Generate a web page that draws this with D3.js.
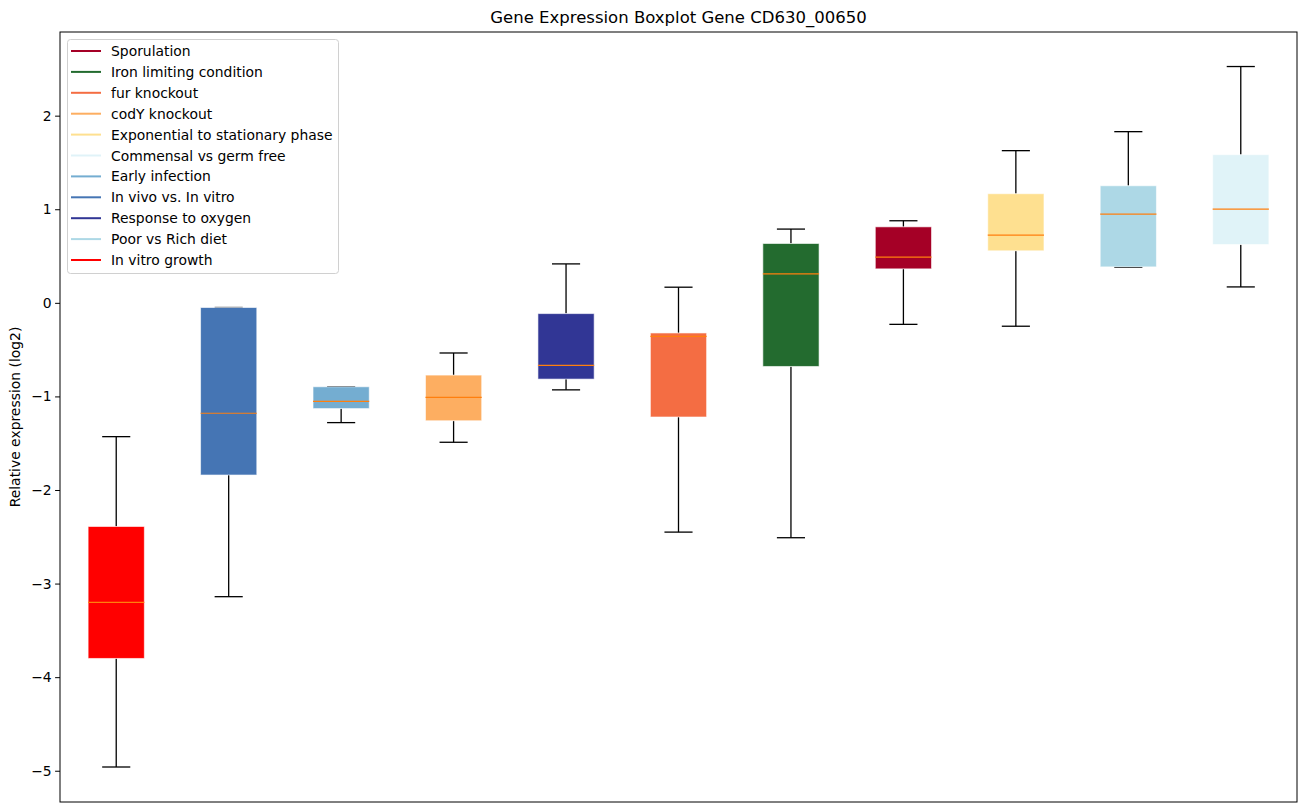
<!DOCTYPE html>
<html><head><meta charset="utf-8">
<script src="https://cdn.jsdelivr.net/npm/d3@7"></script>
<style>body{margin:0;background:#fff;} svg{display:block;font-family:"DejaVu Sans",sans-serif;}</style>
</head><body>
<svg id="chart" width="1309" height="812"></svg>
<script>
const categories = ["In vitro growth","In vivo vs. In vitro","Early infection","codY knockout","Response to oxygen","fur knockout","Iron limiting condition","Sporulation","Exponential to stationary phase","Poor vs Rich diet","Commensal vs germ free"];
const whiskerLow = [-4.96,-3.14,-1.28,-1.49,-0.93,-2.45,-2.51,-0.23,-0.25,0.38,0.17];
const q1Values   = [-3.80,-1.84,-1.13,-1.26,-0.815,-1.22,-0.68,0.363,0.556,0.384,0.623];
const medians    = [-3.20,-1.18,-1.053,-1.01,-0.668,-0.358,0.309,0.488,0.724,0.948,1.002];
const q3Values   = [-2.39,-0.05,-0.897,-0.772,-0.115,-0.322,0.634,0.812,1.166,1.251,1.583];
const whiskerHigh= [-1.43,-0.05,-0.897,-0.536,0.416,0.167,0.788,0.877,1.626,1.829,2.525];
const boxColors  = ["#ff0000","#4575b4","#74add1","#fdae61","#313695","#f46d43","#236b2f","#a50026","#fee090","#add8e6","#e0f3f8"];
const legendOrder = ["Sporulation","Iron limiting condition","fur knockout","codY knockout","Exponential to stationary phase","Commensal vs germ free","Early infection","In vivo vs. In vitro","Response to oxygen","Poor vs Rich diet","In vitro growth"];
const yTicks = [-5,-4,-3,-2,-1,0,1,2];
const title = "Gene Expression Boxplot Gene CD630_00650";
const yLabel = "Relative expression (log2)";

const svg = d3.select("#chart");
const L = 60, R = 1297, T = 32, B = 802;
const x = d3.scaleLinear().domain([0.5, 11.5]).range([L, R]);
const y = d3.scaleLinear().domain([-5.334, 2.894]).range([B, T]);

const data = categories.map((c,i)=>({c, i, lo:whiskerLow[i], q1:q1Values[i], med:medians[i], q3:q3Values[i], hi:whiskerHigh[i], color:boxColors[i]}));
const bw = x(1.25) - x(1);
const cw = x(1.125) - x(1);

const g = svg.append("g");
data.forEach(d => {
  const cx = x(d.i + 1);
  g.append("line").attr("x1",cx).attr("x2",cx).attr("y1",y(d.q1)).attr("y2",y(d.lo)).attr("stroke","#000").attr("stroke-width",1.3);
  g.append("line").attr("x1",cx).attr("x2",cx).attr("y1",y(d.q3)).attr("y2",y(d.hi)).attr("stroke","#000").attr("stroke-width",1.3);
  g.append("line").attr("x1",cx-cw).attr("x2",cx+cw).attr("y1",y(d.lo)).attr("y2",y(d.lo)).attr("stroke","#000").attr("stroke-width",1.3);
  g.append("line").attr("x1",cx-cw).attr("x2",cx+cw).attr("y1",y(d.hi)).attr("y2",y(d.hi)).attr("stroke","#000").attr("stroke-width",1.3);
  g.append("rect").attr("x",cx-bw).attr("width",2*bw).attr("y",y(d.q3)).attr("height",y(d.q1)-y(d.q3))
    .attr("fill",d.color).attr("stroke","rgba(255,255,255,0.6)").attr("stroke-width",1);
  g.append("line").attr("x1",cx-bw).attr("x2",cx+bw).attr("y1",y(d.med)).attr("y2",y(d.med)).attr("stroke","#ff7f0e").attr("stroke-width",1.2);
});

const yAxis = d3.axisLeft(y).tickValues(yTicks).tickSize(4.9).tickPadding(3.5).tickFormat(d => d < 0 ? "\u2212" + Math.abs(d) : d);
const ya = svg.append("g").attr("transform",`translate(${L},0)`).call(yAxis);
ya.select(".domain").remove();
ya.selectAll("text").attr("font-size","13.9px").attr("font-family","DejaVu Sans").attr("fill","#000");
ya.selectAll("line").attr("stroke","#000");

svg.append("rect").attr("x",L).attr("y",T).attr("width",R-L).attr("height",B-T).attr("fill","none").attr("stroke","#000").attr("stroke-width",1);

svg.append("text").attr("x",(L+R)/2).attr("y",23).attr("text-anchor","middle").attr("font-size","16.5px").text(title);
svg.append("text").attr("transform",`translate(20,${(T+B)/2}) rotate(-90)`).attr("text-anchor","middle").attr("font-size","13.9px").text(yLabel);

const lg = svg.append("g");
lg.append("rect").attr("x",67.5).attr("y",39.5).attr("width",271).attr("height",234).attr("rx",3)
  .attr("fill","#fff").attr("fill-opacity",0.8).attr("stroke","#d0d0d0");
legendOrder.forEach((name,k) => {
  const idx = categories.indexOf(name);
  const yy = 51 + k*20.9;
  lg.append("line").attr("x1",71).attr("x2",101).attr("y1",yy).attr("y2",yy).attr("stroke",boxColors[idx]).attr("stroke-width",2);
  lg.append("text").attr("x",111).attr("y",yy+5).attr("font-size","13.9px").text(name);
});
</script>
</body></html>
